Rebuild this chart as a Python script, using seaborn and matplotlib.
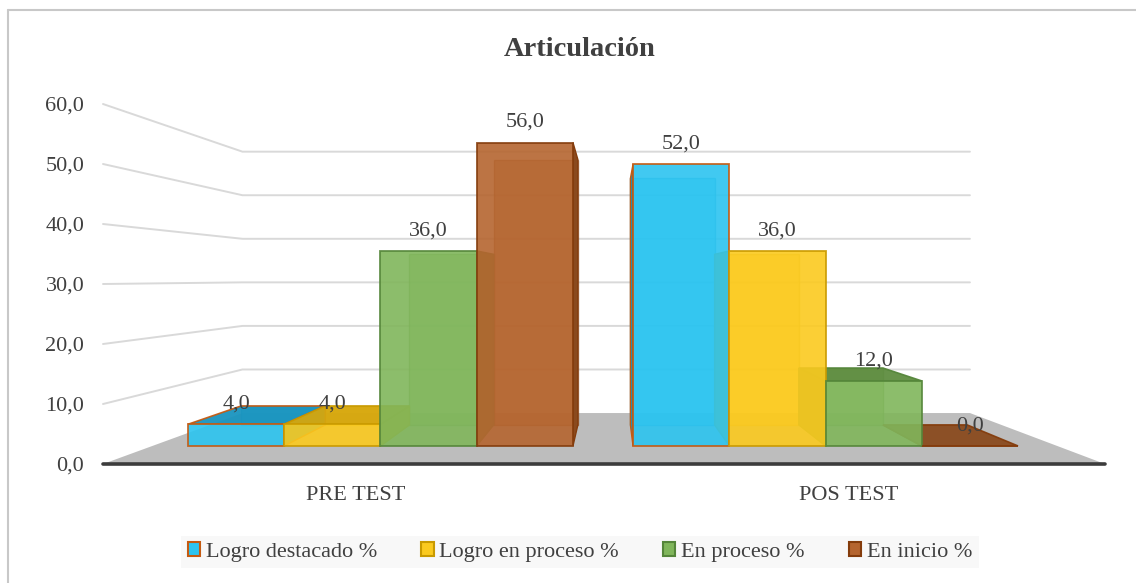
import numpy as np
import pandas as pd
import matplotlib
matplotlib.use("Agg")
import matplotlib.pyplot as plt
import seaborn as sns
from matplotlib.patches import Polygon, Patch
from matplotlib.lines import Line2D

# ---------------- data ----------------
categories = ["PRE TEST", "POS TEST"]
series = ["Logro destacado %", "Logro en proceso %", "En proceso %", "En inicio %"]
pre_values = [4.0, 4.0, 36.0, 56.0]
pos_values = [52.0, 36.0, 12.0, 0.0]
y_ticks = [0, 10, 20, 30, 40, 50, 60]
title = "Articulación"

# ---------------- styles ----------------
face_colors = ["#2cc4f0", "#fbca1f", "#80b65b", "#b5652f"]
edge_colors = ["#c55a11", "#c99a00", "#55863a", "#843c0c"]
dark_colors = ["#1994bf", "#d6a70e", "#5f8d40", "#8a4a1e"]
text_color = "#404040"

sns.set_style("white")
plt.rcParams["font.family"] = ["Liberation Serif", "DejaVu Serif"]

df = pd.DataFrame({
    "Momento": np.repeat(categories, len(series)),
    "Nivel": series * len(categories),
    "Porcentaje": pre_values + pos_values,
})

W, H = 1136, 583
fig = plt.figure(figsize=(W / 100, H / 100), dpi=100)
ax = fig.add_axes([103 / W, 1 - 464 / H, 1002 / W, 366 / H])

sns.barplot(data=df, x="Momento", y="Porcentaje", hue="Nivel",
            hue_order=series, order=categories, palette=face_colors,
            width=0.865, saturation=1, legend=False, ax=ax, errorbar=None)

XL, XR = -0.5126, 1.5206
ax.set_xlim(XL, XR)
ax.set_ylim(0, 61)

# perspective helpers (vanishing point in data coords)
VX, VY = 0.5203, 31.0
K_FRONT, K_BACK, K_FLOOR = 0.097, 0.21, 0.274


def proj(x, v, k):
    return x + k * (VX - x), v + k * (VY - v)


# floor
floor = [proj(XL, 0, 0), proj(XR, 0, 0), proj(XR, 0, K_FLOOR), proj(XL, 0, K_FLOOR)]
ax.add_patch(Polygon(floor, closed=True, facecolor="#bdbdbd", edgecolor="none",
                     zorder=1, clip_on=False))

# gridlines (side wall + back wall)
for t in y_ticks[1:]:
    p0 = proj(XL, t, 0)
    p1 = proj(XL, t, K_FLOOR)
    p2 = proj(XR, t, K_FLOOR)
    ax.plot([p0[0], p1[0], p2[0]], [p0[1], p1[1], p2[1]], color="#d9d9d9",
            lw=1.4, zorder=0.5, clip_on=False, solid_joinstyle="miter")

# 3D bars
for i, cont in enumerate(ax.containers):
    for rect in cont:
        x0 = rect.get_x()
        w = rect.get_width()
        h = rect.get_height()
        fx0, fy0 = proj(x0, 0, K_FRONT)
        fx1, fy1 = proj(x0 + w, h, K_FRONT)
        bx0, by0 = proj(x0, 0, K_BACK)
        bx1, by1 = proj(x0 + w, h, K_BACK)
        # back face
        ax.add_patch(Polygon([(bx0, by0), (bx1, by0), (bx1, by1), (bx0, by1)],
                             closed=True, facecolor=face_colors[i], alpha=0.6,
                             edgecolor=dark_colors[i], lw=1, zorder=2, clip_on=False))
        # side face
        if x0 + w / 2 < VX:
            side = [(fx1, fy0), (bx1, by0), (bx1, by1), (fx1, fy1)]
        else:
            side = [(fx0, fy0), (bx0, by0), (bx0, by1), (fx0, fy1)]
        ax.add_patch(Polygon(side, closed=True, facecolor=dark_colors[i],
                             edgecolor=edge_colors[i], lw=1, zorder=3, clip_on=False))
        # top face
        if h < VY:
            top = [(fx0, fy1), (fx1, fy1), (bx1, by1), (bx0, by1)]
            ax.add_patch(Polygon(top, closed=True, facecolor=dark_colors[i],
                                 edgecolor=edge_colors[i], lw=1.2, zorder=4,
                                 clip_on=False, alpha=0.95))
        # front face
        rect.set_x(fx0)
        rect.set_width(fx1 - fx0)
        rect.set_y(fy0)
        rect.set_height(fy1 - fy0)
        rect.set_alpha(0.9)
        rect.set_edgecolor(edge_colors[i])
        rect.set_linewidth(1.3)
        rect.set_zorder(5)
        rect.set_clip_on(False)
        # data label
        label = f"{h:.1f}".replace(".", ",")
        ax.annotate(label, xy=((fx0 + fx1) / 2, fy1), xytext=(0, 14.5),
                    textcoords="offset points", ha="center", va="center",
                    fontsize=16, color=text_color, zorder=7)

# baseline
ax.axhline(0, color="#3c3c3c", lw=2.6, zorder=6, clip_on=False)

# axes cosmetics
for s in ax.spines.values():
    s.set_visible(False)
ax.set_yticks(y_ticks)
ax.set_yticklabels([f"{t:.1f}".replace(".", ",") for t in y_ticks])
ax.tick_params(axis="y", length=0, pad=13.5, labelsize=16, labelcolor=text_color)
ax.tick_params(axis="x", length=0, pad=16, labelsize=16, labelcolor=text_color)
ax.set_xlabel("")
ax.set_ylabel("")
ax.grid(False)
ax.patch.set_alpha(0)

# title
fig.text(580 / W, 1 - 49 / H, title, ha="center", va="center", fontsize=20.5,
         fontweight="bold", color=text_color)

# legend
handles = [Patch(facecolor=face_colors[i], edgecolor=edge_colors[i], lw=1.5, label=s)
           for i, s in enumerate(series)]
leg = fig.legend(handles=handles, loc="center", bbox_to_anchor=(580 / W, 1 - 552 / H),
                 ncol=4, frameon=True, fontsize=16, handlelength=0.55,
                 handleheight=0.55, handletextpad=0.25, columnspacing=2.0,
                 borderpad=0.3, fancybox=False)
leg.get_frame().set_facecolor("#f7f7f7")
leg.get_frame().set_edgecolor("none")
for t in leg.get_texts():
    t.set_color(text_color)

# chart border (left and top visible)
fig.add_artist(Line2D([8 / W, 8 / W], [0, 1 - 10 / H], color="#c8c8c8", lw=1.5))
fig.add_artist(Line2D([8 / W, 1], [1 - 10 / H, 1 - 10 / H], color="#c8c8c8", lw=1.5))

fig.savefig("out.png", dpi=100)
